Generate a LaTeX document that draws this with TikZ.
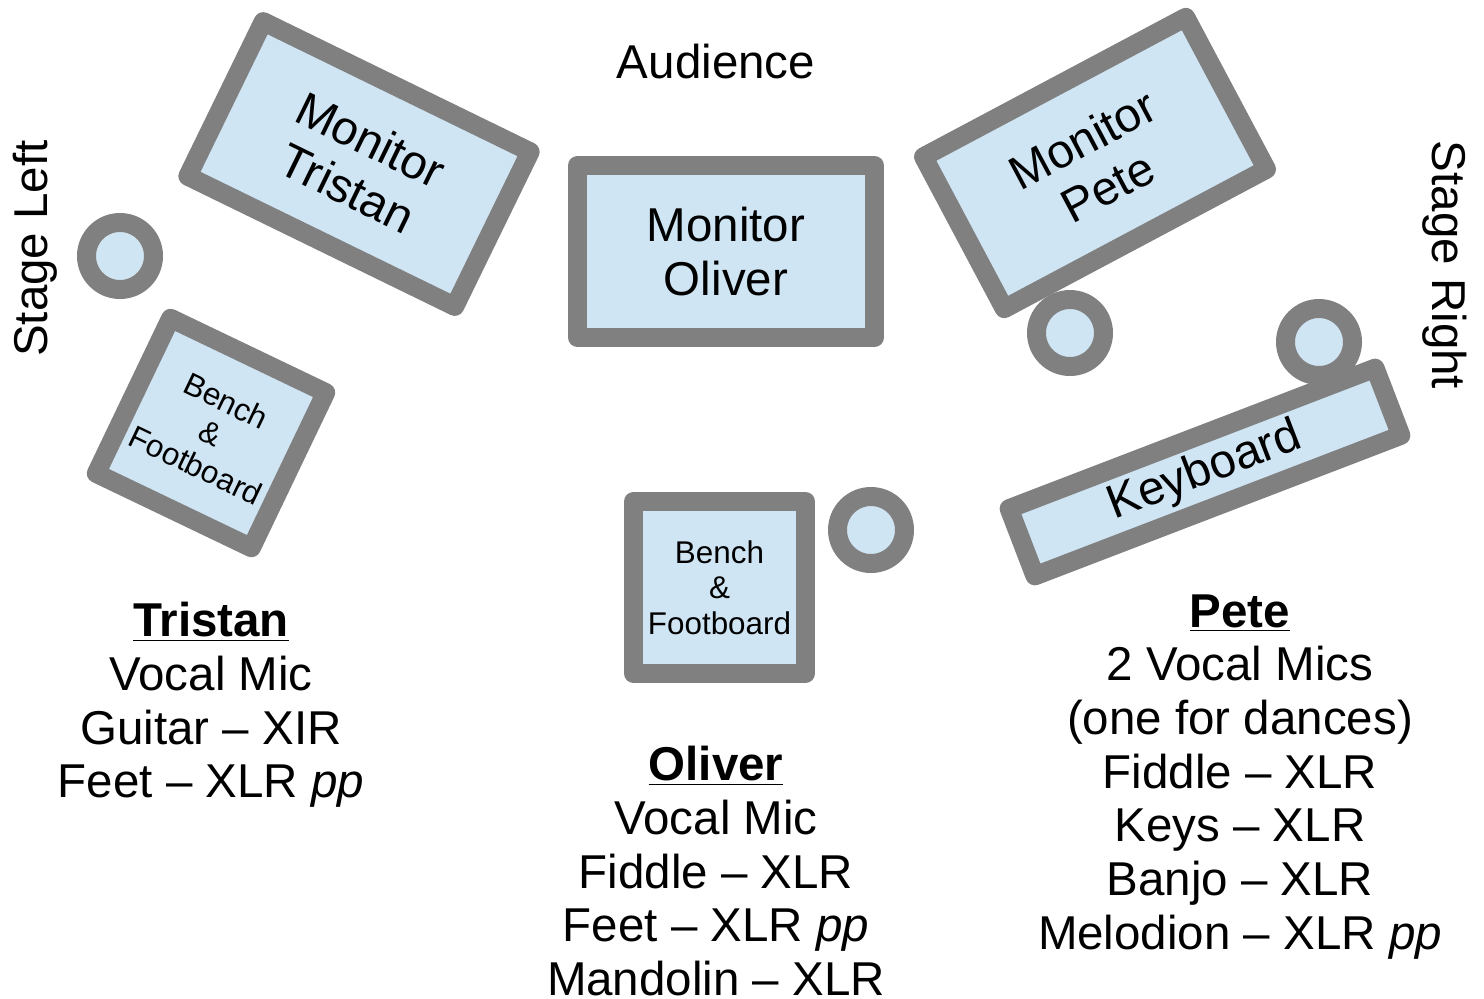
\documentclass[tikz,border=0pt]{standalone}
\usepackage{fontspec}
\setmainfont{Liberation Sans}
\definecolor{standgray}{RGB}{128,128,128}
\definecolor{standblue}{RGB}{207,229,243}
\newcommand{\bigtxt}{\fontsize{23.75}{26.85}\selectfont}
\newcommand{\smalltxt}{\fontsize{15.7}{17.75}\selectfont}
\newcommand{\who}[1]{\underline{\textbf{#1}}}
\tikzset{
  kit/.style={draw=standgray, fill=standblue, line width=9.5pt, line join=round, inner sep=0pt, align=center},
  monitor/.style={kit, rectangle, minimum width=148.5pt, minimum height=86pt, font=\bigtxt},
  bench/.style={kit, rectangle, minimum width=86pt, minimum height=86pt, font=\smalltxt},
  mic/.style={kit, circle, minimum size=33.5pt},
  crew/.style={inner sep=0pt, font=\bigtxt, align=center}
}

\begin{document}
\begin{tikzpicture}[x=0.5pt, y=-0.5pt]
    \useasboundingbox (0,0) rectangle (1484,998);
    % mics
    \node[mic] (micT) at (120,256) {};
    \node[mic] (micO) at (871,530) {};
    \node[mic] (micP) at (1070,333) {};
    \node[mic] (micK) at (1319,342) {};
    % monitors
    \node[monitor] (monO) at (726,251.5) {Monitor\\Oliver};
    \node[monitor, rotate=-26] (monT) at (359,164) {Monitor\\Tristan};
    \node[monitor, rotate=28] (monP) at (1095,163) {Monitor\\Pete};
    % benches and keyboard
    \node[bench] (benchO) at (719.5,587.5) {Bench\\\&\\Footboard};
    \node[bench, rotate=-25.6] (benchT) at (211,433) {Bench\\\&\\Footboard};
    \node[kit, rectangle, rotate=21, minimum width=196pt, minimum height=36pt, font=\bigtxt] (keys) at (1205,472) {Keyboard};
    % stage
    \node[crew, anchor=base] (aud) at (716,78) {Audience};
    \node[crew, anchor=base, rotate=90] (sleft) at (47,248.5) {Stage Left};
    \node[crew, anchor=base, rotate=-90] (sright) at (1432,265) {Stage Right};
    % players
    \node[crew, anchor=north] (tristan) at (211,602) {\who{Tristan}\\Vocal Mic\\Guitar – XIR\\Feet – XLR \textit{pp}};
    \node[crew, anchor=north] (oliver) at (716,746) {\who{Oliver}\\Vocal Mic\\Fiddle – XLR\\Feet – XLR \textit{pp}\\Mandolin – XLR};
    \node[crew, anchor=north] (pete) at (1240,594) {\who{Pete}\\2 Vocal Mics\\(one for dances)\\Fiddle – XLR\\Keys – XLR\\Banjo – XLR\\Melodion – XLR \textit{pp}};
\end{tikzpicture}
\end{document}
